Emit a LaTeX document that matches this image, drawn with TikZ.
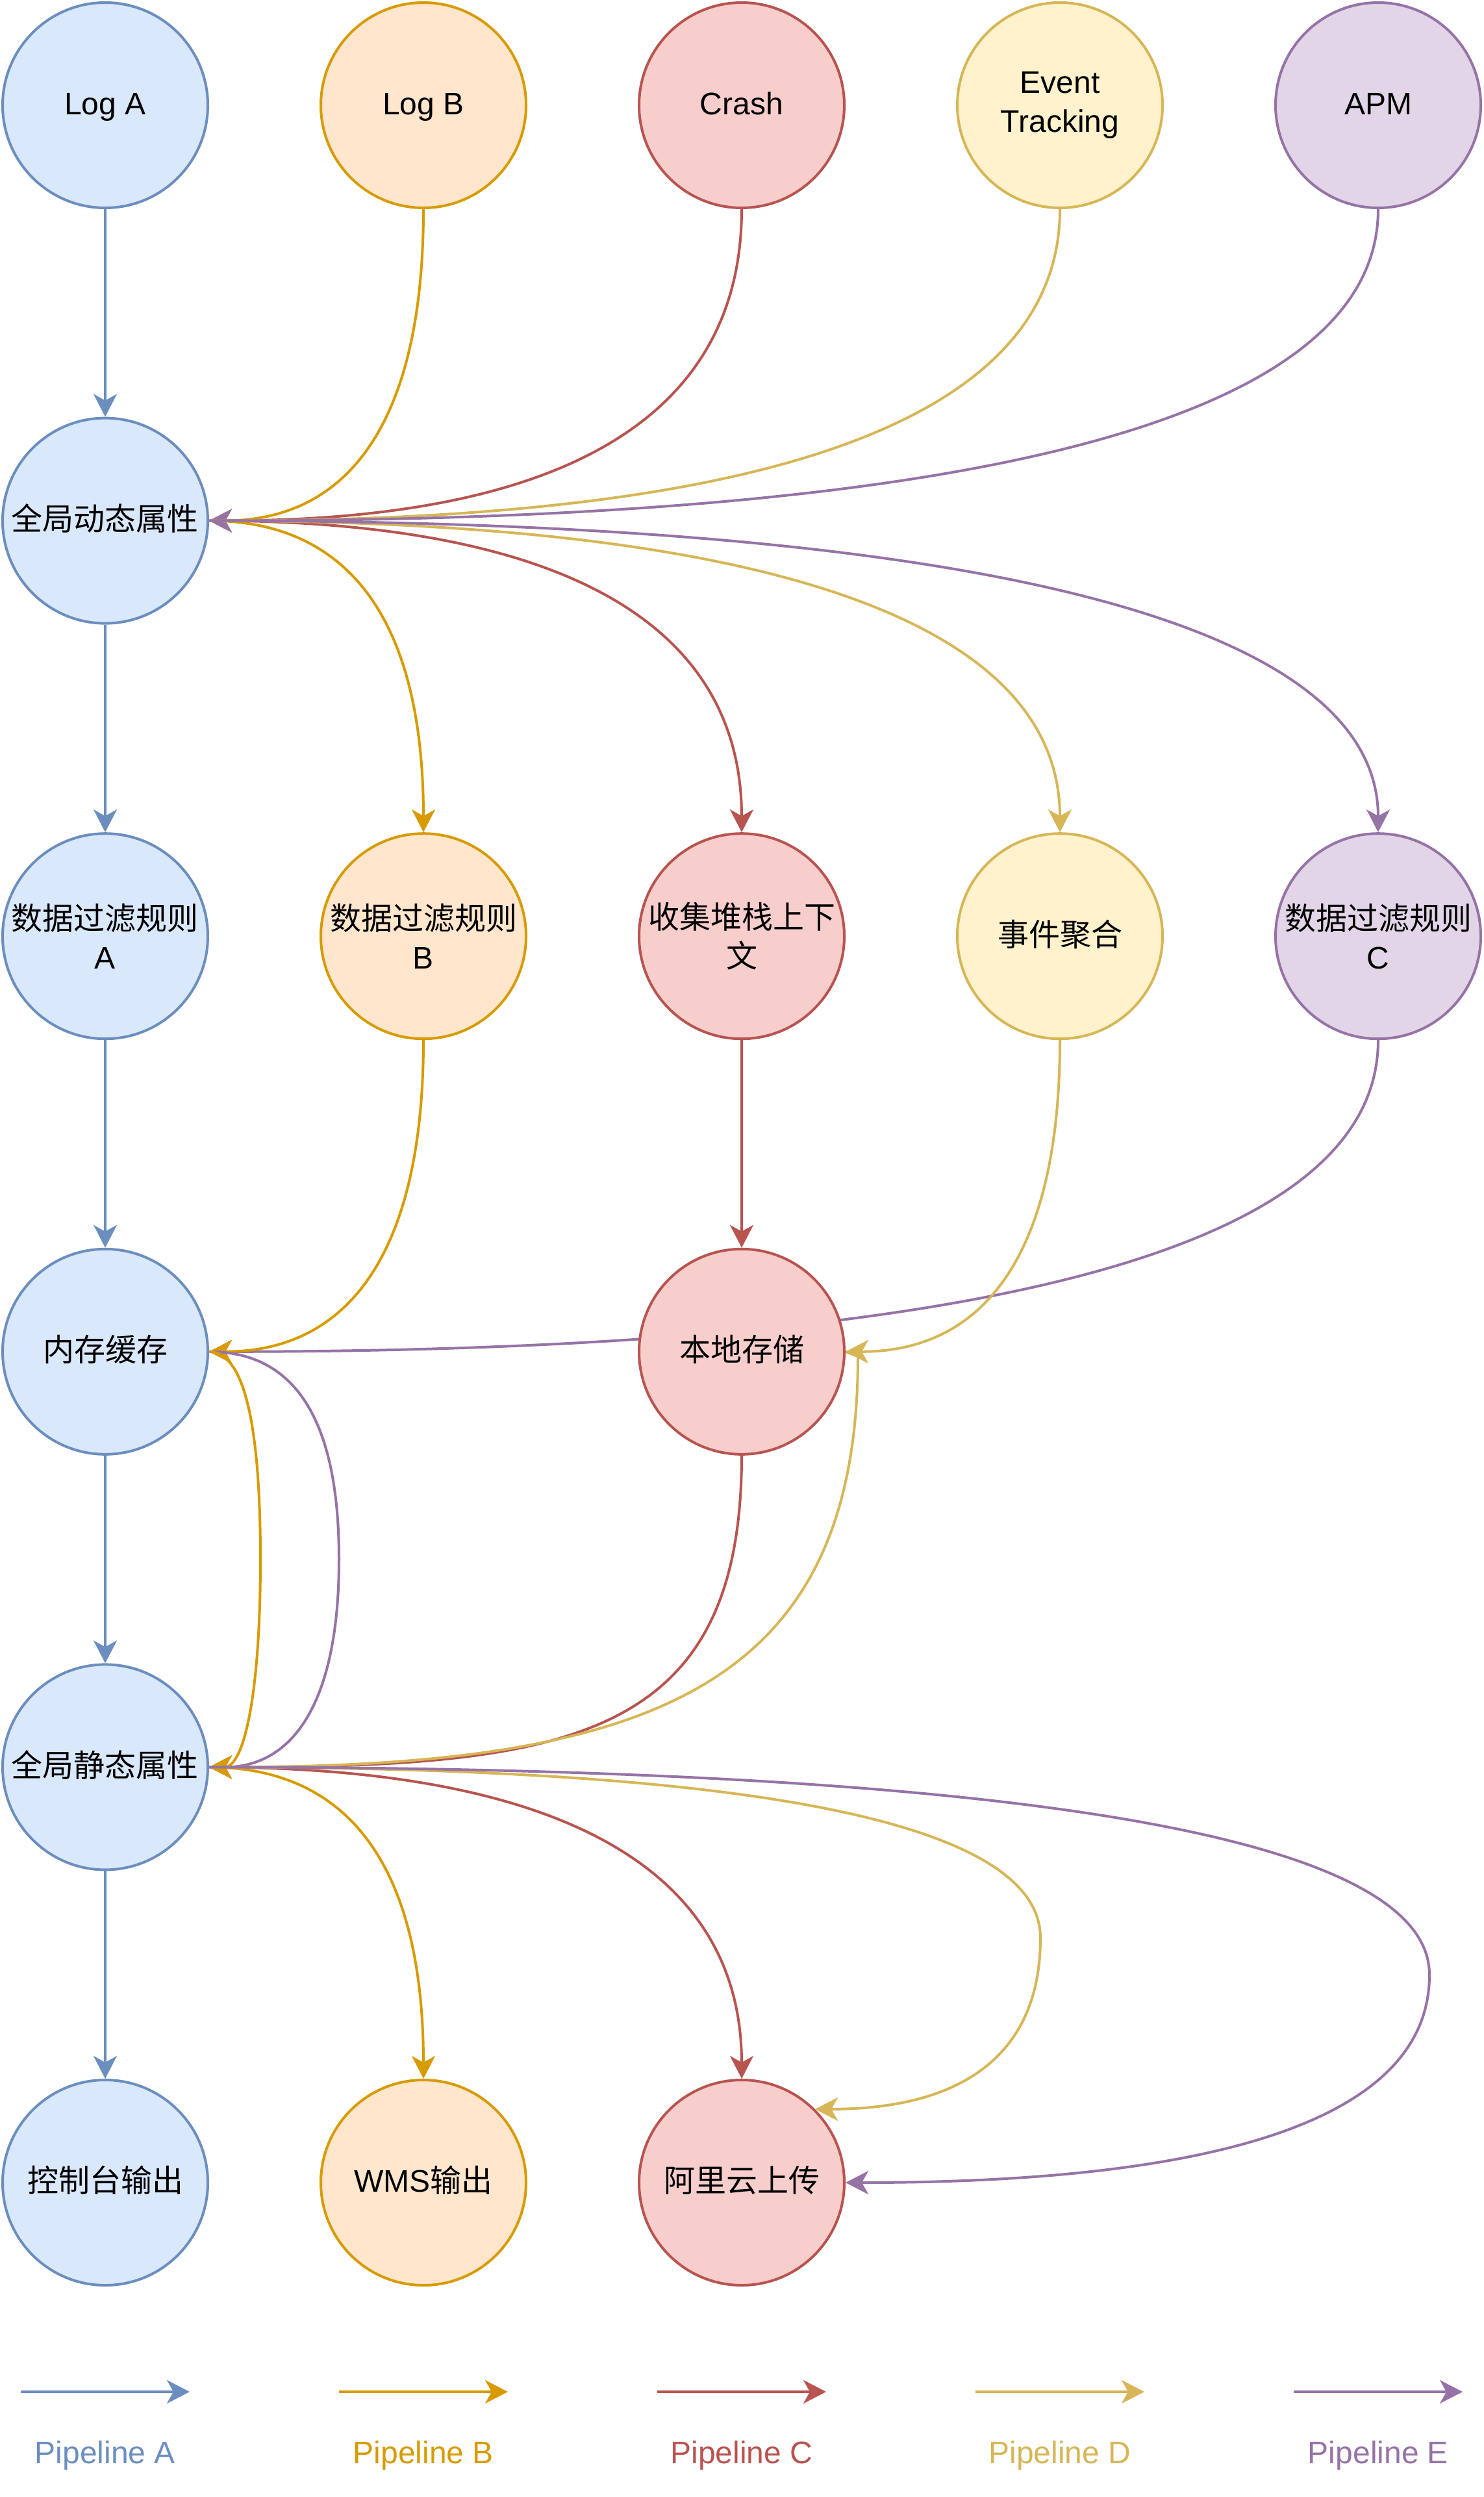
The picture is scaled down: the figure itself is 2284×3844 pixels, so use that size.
\documentclass[tikz,border=0pt]{standalone}
\usepackage{fontspec}
\setmainfont{Liberation Sans}
\newfontfamily\cjk{Noto Sans CJK SC}
\usetikzlibrary{arrows.meta,calc}
\pgfdeclarelayer{edges}
\pgfsetlayers{edges,main}
\definecolor{bA}{HTML}{6C8EBF}\definecolor{fA}{HTML}{DAE8FC}
\definecolor{bB}{HTML}{D79B00}\definecolor{fB}{HTML}{FFE6CC}
\definecolor{bC}{HTML}{B85450}\definecolor{fC}{HTML}{F8CECC}
\definecolor{bD}{HTML}{D6B656}\definecolor{fD}{HTML}{FFF2CC}
\definecolor{bE}{HTML}{9673A6}\definecolor{fE}{HTML}{E1D5E7}
% quadratic curve (drawio "curved") written as a cubic
\newcommand\qto[3]{.. controls ($(#1)!0.6667!(#2)$) and ($(#3)!0.6667!(#2)$) .. (#3)}
\tikzset{
  nd/.style={circle, draw, line width=1pt, minimum size=79pt, inner sep=0pt,
    align=center, font=\fontsize{12}{15}\selectfont},
  one/.style={text height=9.7pt, text depth=2.3pt},
  nA/.style={nd, draw=bA, fill=fA},
  nB/.style={nd, draw=bB, fill=fB},
  nC/.style={nd, draw=bC, fill=fC},
  nD/.style={nd, draw=bD, fill=fD},
  nE/.style={nd, draw=bE, fill=fE},
  ar/.style={line width=1pt, -{Stealth[length=8.75pt,width=9pt,inset=2.5pt]}},
  eA/.style={ar, color=bA},
  eB/.style={ar, color=bB},
  eC/.style={ar, color=bC},
  eD/.style={ar, color=bD},
  eE/.style={ar, color=bE},
  leg/.style={font=\fontsize{12}{15}\selectfont, inner sep=0pt}
}
\begin{document}
\begin{tikzpicture}[x=0.25pt, y=-0.25pt]
\useasboundingbox (0,0) rectangle (2284,3844);
% row 1
\node[nA, one] (la)  at (162,162)  {Log A};
\node[nB, one] (lb)  at (652,162)  {Log B};
\node[nC, one] (cr)  at (1142,162) {Crash};
\node[nD] (et)  at (1632,162) {Event\\Tracking};
\node[nE, one] (apm) at (2122,162) {APM};
% row 2
\node[nA, one] (hub) at (162,801.6) {\cjk 全局动态属性};
% row 3
\node[nA] (fa) at (162,1441.2)  {{\cjk 数据过滤规则}\\A};
\node[nB] (fb) at (652,1441.2)  {{\cjk 数据过滤规则}\\B};
\node[nC] (st) at (1142,1441.2) {{\cjk 收集堆栈上下}\\{\cjk 文}};
\node[nD, one] (ev) at (1632,1441.2) {\cjk 事件聚合};
\node[nE] (fc) at (2122,1441.2) {{\cjk 数据过滤规则}\\C};
% row 4
\node[nA, one] (mc) at (162,2080.8)  {\cjk 内存缓存};
\node[nC, one] (ls) at (1142,2080.8) {\cjk 本地存储};
% row 5
\node[nA, one] (gs) at (162,2720.4) {\cjk 全局静态属性};
% row 6
\node[nA, one] (co)  at (162,3360)  {\cjk 控制台输出};
\node[nB, one] (wms) at (652,3360)  {WMS{\cjk 输出}};
\node[nC, one] (ali) at (1142,3360) {\cjk 阿里云上传};
% waypoints of the routed curves
\coordinate (o1) at (401,2080.8);  \coordinate (om) at (401,2400.6);  \coordinate (o2) at (401,2720.4);
\coordinate (p1) at (522,2080.8);  \coordinate (pm) at (522,2400.6);  \coordinate (p2) at (522,2720.4);
\coordinate (y1) at (1602,2720.4); \coordinate (ym) at (1602,2983.5); \coordinate (y2) at (1602,3247);
\coordinate (q1) at (2201,2720.4); \coordinate (qm) at (2201,3040.2); \coordinate (q2) at (2201,3360);
% legend
\coordinate (lAs) at (32,3682);   \coordinate (lAe) at (292,3682);
\coordinate (lBs) at (522,3682);  \coordinate (lBe) at (782,3682);
\coordinate (lCs) at (1012,3682); \coordinate (lCe) at (1272,3682);
\coordinate (lDs) at (1502,3682); \coordinate (lDe) at (1762,3682);
\coordinate (lEs) at (1992,3682); \coordinate (lEe) at (2252,3682);
\node[leg, text=bA] (tA) at (162,3780)  {Pipeline A};
\node[leg, text=bB] (tB) at (652,3780)  {Pipeline B};
\node[leg, text=bC] (tC) at (1142,3780) {Pipeline C};
\node[leg, text=bD] (tD) at (1632,3780) {Pipeline D};
\node[leg, text=bE] (tE) at (2122,3780) {Pipeline E};

\begin{pgfonlayer}{edges}
% sources -> global dynamic attributes
\draw[eA] (la.south) -- (hub.north);
\draw[eB] (lb.south)  \qto{lb.south}{lb.south |- hub.east}{hub.east};
\draw[eC] (cr.south)  \qto{cr.south}{cr.south |- hub.east}{hub.east};
\draw[eD] (et.south)  \qto{et.south}{et.south |- hub.east}{hub.east};
\draw[eE] (apm.south) \qto{apm.south}{apm.south |- hub.east}{hub.east};
% global dynamic attributes -> row 3
\draw[eA] (hub.south) -- (fa.north);
\draw[eB] (hub.east) \qto{hub.east}{fb.north |- hub.east}{fb.north};
\draw[eC] (hub.east) \qto{hub.east}{st.north |- hub.east}{st.north};
\draw[eD] (hub.east) \qto{hub.east}{ev.north |- hub.east}{ev.north};
\draw[eE] (hub.east) \qto{hub.east}{fc.north |- hub.east}{fc.north};
% row 3 -> row 4
\draw[eA] (fa.south) -- (mc.north);
\draw[eE] (fc.south) \qto{fc.south}{fc.south |- mc.east}{mc.east};
\draw[eB] (fb.south) \qto{fb.south}{fb.south |- mc.east}{mc.east};
\draw[eC] (st.south) -- (ls.north);
\draw[eD] (ev.south) \qto{ev.south}{ev.south |- ls.east}{ls.east};
% row 4 -> global static attributes
\draw[eA] (mc.south) -- (gs.north);
\draw[eE] (mc.east) \qto{mc.east}{p1}{pm} \qto{pm}{p2}{gs.east};
\draw[eC] (ls.south) .. controls ($(ls.south)+(0,440)$) and ($(gs.east)+(550,0)$) .. (gs.east);
\draw[eD] (ls.east) -- ($(ls.east)+(19,7)$) .. controls ($(ls.east)+(19,519)$) and ($(gs.east)+(678,0)$) .. (gs.east);
\draw[eB] (mc.east) \qto{mc.east}{o1}{om} \qto{om}{o2}{gs.east};
% global static attributes -> outputs
\draw[eA] (gs.south) -- (co.north);
\draw[eB] (gs.east) \qto{gs.east}{wms.north |- gs.east}{wms.north};
\draw[eC] (gs.east) \qto{gs.east}{ali.north |- gs.east}{ali.north};
\draw[eD] (gs.east) \qto{gs.east}{y1}{ym} \qto{ym}{y2}{ali.north east};
\draw[eE] (gs.east) \qto{gs.east}{q1}{qm} \qto{qm}{q2}{ali.east};
% legend arrows
\draw[eA] (lAs) -- (lAe);
\draw[eB] (lBs) -- (lBe);
\draw[eC] (lCs) -- (lCe);
\draw[eD] (lDs) -- (lDe);
\draw[eE] (lEs) -- (lEe);
\end{pgfonlayer}
\end{tikzpicture}
\end{document}
